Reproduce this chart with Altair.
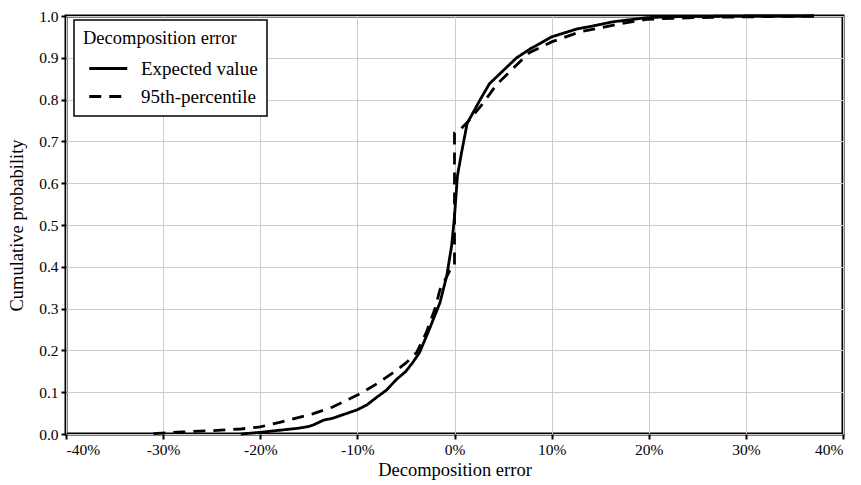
import altair as alt
import pandas as pd

expected_x = [-22, -20, -18, -16, -15, -14.5, -13.5, -12.5, -11, -10, -9, -8, -7, -6, -5, -4.3, -3.6,
              -2.6, -1.5, -0.8, -0.3, 0, 0.3, 0.7, 1.3, 2.6, 3.6, 5.4, 6.4, 7.7, 10, 12.6, 14, 16.3,
              19.8, 22, 25, 30, 37]
expected_y = [0, 0.004, 0.009, 0.014, 0.018, 0.022, 0.033, 0.038, 0.05, 0.058, 0.07, 0.088, 0.105,
              0.13, 0.15, 0.171, 0.195, 0.25, 0.314, 0.378, 0.45, 0.52, 0.617, 0.67, 0.743, 0.798,
              0.838, 0.878, 0.9, 0.92, 0.95, 0.969, 0.975, 0.986, 0.996, 0.998, 0.999, 1.0, 1.0]

p95_x = [-31, -28, -25, -22, -20, -18, -16, -14.6, -12.6, -10, -8, -6, -5, -3.9, -2.9, -2, -1.5,
         -0.5, 0, 0, 0.4, 1.3, 2.9, 4.3, 6, 7.7, 10, 12.9, 17, 19.8, 23, 26.6, 30, 37]
p95_y = [0.001, 0.005, 0.008, 0.012, 0.017, 0.028, 0.04, 0.048, 0.064, 0.093, 0.12, 0.152, 0.17,
         0.195, 0.243, 0.3, 0.345, 0.39, 0.40, 0.72, 0.724, 0.745, 0.79, 0.835, 0.874, 0.912, 0.938,
         0.962, 0.981, 0.992, 0.995, 0.997, 0.998, 1.0]

series = ["Expected value", "95th-percentile"]

rows = []
for i, (x, y) in enumerate(zip(expected_x, expected_y)):
    rows.append({"x": x, "y": y, "s": series[0], "i": i})
for i, (x, y) in enumerate(zip(p95_x, p95_y)):
    rows.append({"x": x, "y": y, "s": series[1], "i": i})
df = pd.DataFrame(rows)

font = "Liberation Serif"

chart = alt.Chart(df).mark_line(strokeWidth=2.8, color="black").encode(
    x=alt.X("x:Q", scale=alt.Scale(domain=[-40, 40], nice=False),
            axis=alt.Axis(values=list(range(-40, 41, 10)), labelExpr="datum.value + '%'",
                          title="Decomposition error")),
    y=alt.Y("y:Q", scale=alt.Scale(domain=[0, 1], nice=False),
            axis=alt.Axis(values=[i / 10 for i in range(11)], format=".1f",
                          title="Cumulative probability")),
    strokeDash=alt.StrokeDash("s:N", scale=alt.Scale(domain=series, range=[[1, 0], [12, 8]]),
                              legend=alt.Legend(title="Decomposition error", orient="none",
                                                legendX=8, legendY=4)),
    order="i:Q",
).properties(
    width=777, height=418,
    autosize=alt.AutoSizeParams(type="none"),
    padding={"left": 58, "top": 8, "right": 10, "bottom": 50},
).configure(
    font=font
).configure_view(
    stroke="black", strokeWidth=3
).configure_axis(
    labelFont=font, titleFont=font, labelFontSize=15.5, titleFontSize=18.5, labelColor="black",
    titleColor="black", titleFontWeight="normal", gridColor="#cccccc", gridWidth=1,
    domain=False, tickColor="black", tickWidth=2, tickSize=5, labelPadding=3,
).configure_axisY(titlePadding=12).configure_axisX(titlePadding=3).configure_legend(
    titleFont=font, labelFont=font, titleFontSize=18.5, labelFontSize=19, titleFontWeight="normal",
    titleColor="black", labelColor="black", fillColor="white", strokeColor="black", padding=9,
    symbolType="M-0.5,0H3.5", symbolStrokeWidth=3, symbolSize=361, symbolStrokeColor="black",
    rowPadding=7, titlePadding=10, labelOffset=36, cornerRadius=0, strokeWidth=1.5,
)

chart.save("out.html", embed_options={"renderer": "svg", "actions": False})
